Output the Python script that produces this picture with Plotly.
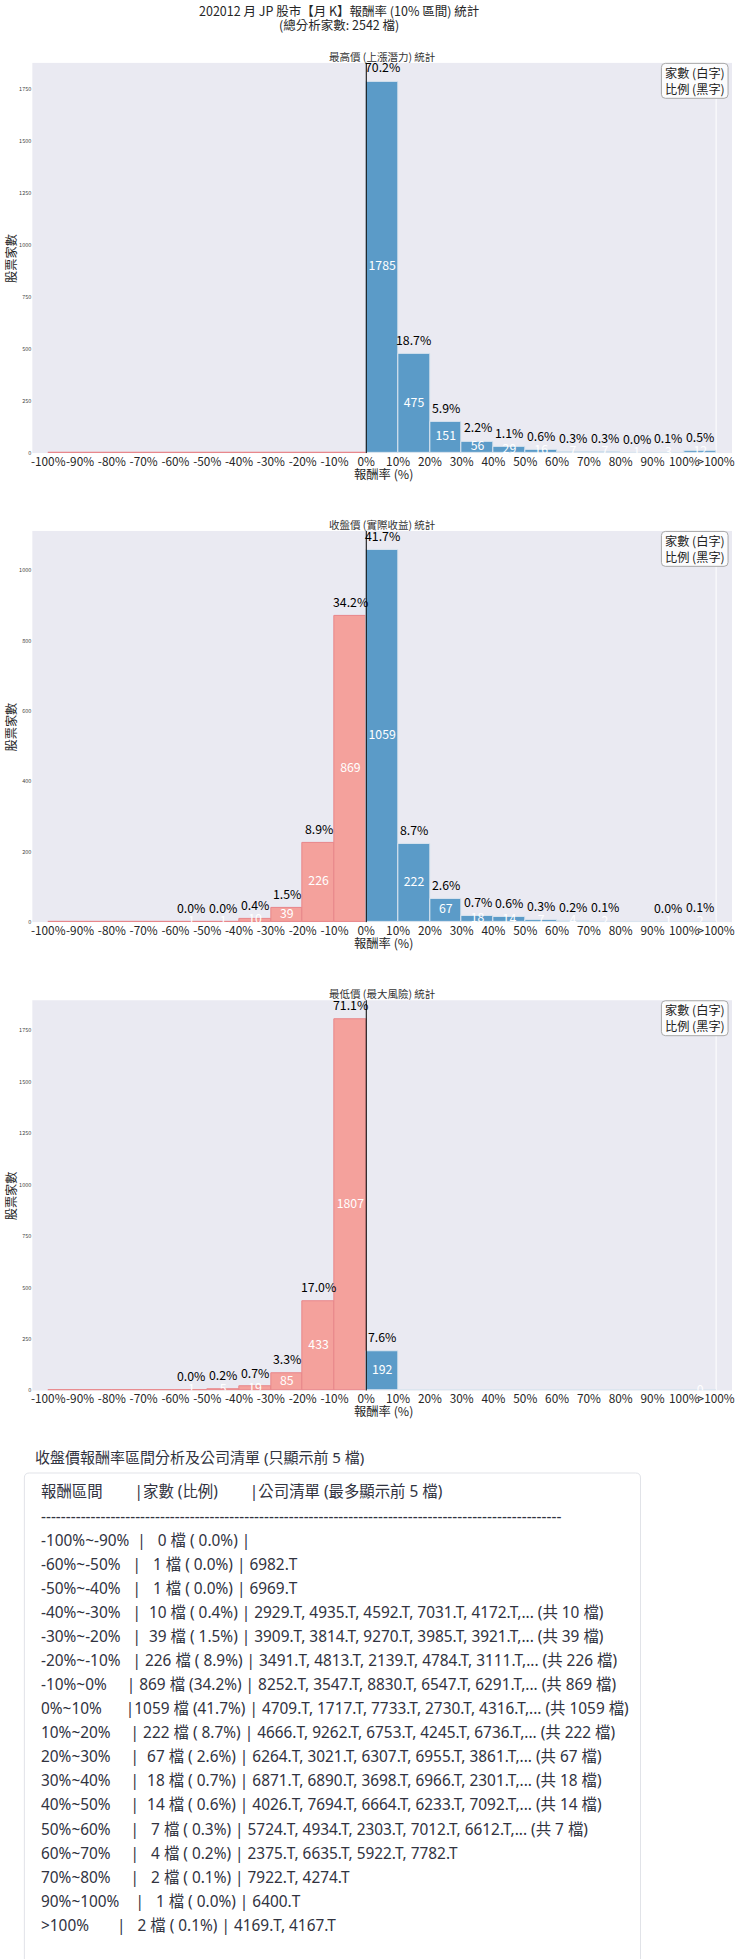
import plotly.graph_objects as go

W, H = 740, 1959
FONT = "Noto Sans CJK TC"
TFONT = "Noto Sans, Noto Sans CJK TC"

# ---------------- data ----------------
bin_left = list(range(-100, 101, 10))          # 21 bins, last one is ">100%"
tick_vals = list(range(-100, 111, 10))
tick_labels = [f"{v}%" for v in range(-100, 101, 10)] + [">100%"]
total_stocks = 2542

high_counts = [0, 0, 0, 0, 0, 0, 0, 0, 0, 0,
               1785, 475, 151, 56, 29, 16, 7, 7, 1, 3, 12]
close_counts = [0, 0, 0, 0, 1, 1, 10, 39, 226, 869,
                1059, 222, 67, 18, 14, 7, 4, 2, 0, 1, 2]
low_counts = [0, 0, 0, 0, 1, 5, 19, 85, 433, 1807,
              192, 0, 0, 0, 0, 0, 0, 0, 0, 0, 0]

chart_titles = ["最高價 (上漲潛力) 統計", "收盤價 (實際收益) 統計", "最低價 (最大風險) 統計"]
y_dticks = [250, 200, 250]

main_title_1 = "202012 月 JP 股市【月 K】報酬率 (10% 區間) 統計"
main_title_2 = f"(總分析家數: {total_stocks} 檔)"

table_heading = "收盤價報酬率區間分析及公司清單 (只顯示前 5 檔)"
table_ranges = ["-100%~-90%", "-60%~-50%", "-50%~-40%", "-40%~-30%", "-30%~-20%",
                "-20%~-10%", "-10%~0%", "0%~10%", "10%~20%", "20%~30%", "30%~40%",
                "40%~50%", "50%~60%", "60%~70%", "70%~80%", "90%~100%", ">100%"]
table_counts = [0, 1, 1, 10, 39, 226, 869, 1059, 222, 67, 18, 14, 7, 4, 2, 1, 2]
table_companies = [
    "",
    "6982.T",
    "6969.T",
    "2929.T, 4935.T, 4592.T, 7031.T, 4172.T,... (共 10 檔)",
    "3909.T, 3814.T, 9270.T, 3985.T, 3921.T,... (共 39 檔)",
    "3491.T, 4813.T, 2139.T, 4784.T, 3111.T,... (共 226 檔)",
    "8252.T, 3547.T, 8830.T, 6547.T, 6291.T,... (共 869 檔)",
    "4709.T, 1717.T, 7733.T, 2730.T, 4316.T,... (共 1059 檔)",
    "4666.T, 9262.T, 6753.T, 4245.T, 6736.T,... (共 222 檔)",
    "6264.T, 3021.T, 6307.T, 6955.T, 3861.T,... (共 67 檔)",
    "6871.T, 6890.T, 3698.T, 6966.T, 2301.T,... (共 18 檔)",
    "4026.T, 7694.T, 6664.T, 6233.T, 7092.T,... (共 14 檔)",
    "5724.T, 4934.T, 2303.T, 7012.T, 6612.T,... (共 7 檔)",
    "2375.T, 6635.T, 5922.T, 7782.T",
    "7922.T, 4274.T",
    "6400.T",
    "4169.T, 4167.T",
]

# ---------------- layout helpers ----------------
def PX(v):
    return v / W

def PY(v):
    return 1 - v / H

AX_LEFT, AX_RIGHT = 31.5, 735.0
AXES = [(63.0, 454.0), (532.0, 924.0), (1002.3, 1393.3)]

BLUE = "#5b9bc8"
BLUE_EDGE = "#dbe5ef"
RED = "#f4a19c"
RED_EDGE = "#e8868a"
LBL = 12.3

def rounded(x0, y0, x1, y1, r, open_bottom=False):
    p = (f"M {PX(x0)},{PY(y1 + 20 if open_bottom else y1 - r)} "
         f"L {PX(x0)},{PY(y0 + r)} Q {PX(x0)},{PY(y0)} {PX(x0 + r)},{PY(y0)} "
         f"L {PX(x1 - r)},{PY(y0)} Q {PX(x1)},{PY(y0)} {PX(x1)},{PY(y0 + r)} ")
    if open_bottom:
        p += f"L {PX(x1)},{PY(y1 + 20)}"
    else:
        p += (f"L {PX(x1)},{PY(y1 - r)} Q {PX(x1)},{PY(y1)} {PX(x1 - r)},{PY(y1)} "
              f"L {PX(x0 + r)},{PY(y1)} Q {PX(x0)},{PY(y1)} {PX(x0)},{PY(y1 - r)} Z")
    return p

fig = go.Figure()
annotations = []
shapes = []

all_counts = [high_counts, close_counts, low_counts]
for i, counts in enumerate(all_counts):
    n = i + 1
    xa = "x" if n == 1 else f"x{n}"
    ya = "y" if n == 1 else f"y{n}"
    centers = [b + 5 for b in bin_left]
    colors = [RED if b < 0 else BLUE for b in bin_left]
    edges = [RED_EDGE if b < 0 else BLUE_EDGE for b in bin_left]
    fig.add_trace(go.Bar(
        x=centers, y=counts, width=[10] * len(centers),
        marker=dict(color=colors, line=dict(color=edges, width=1)),
        xaxis=xa, yaxis=ya, showlegend=False, hoverinfo="skip"))
    last = len(counts) - 1
    keep = [k for k, v in enumerate(counts) if v > 0 or k == last]
    # white count labels (middle of bar, clipped at the axes)
    fig.add_trace(go.Scatter(
        x=[centers[k] for k in keep], y=[counts[k] / 2 for k in keep],
        text=[str(counts[k]) for k in keep], mode="text", cliponaxis=True,
        textfont=dict(family=FONT, size=LBL, color="white"),
        xaxis=xa, yaxis=ya, showlegend=False, hoverinfo="skip"))
    # black percentage labels above bars
    for k, v in enumerate(counts):
        if v > 0:
            annotations.append(dict(
                text=f"{v / total_stocks * 100:.1f}%", x=centers[k], y=v,
                xref=xa, yref=ya, showarrow=False, xanchor="center", yanchor="bottom",
                yshift=3, font=dict(family=FONT, size=LBL, color="black")))

    top, bot = AXES[i]
    ymax = max(counts) * 1.05
    fig.layout[f"xaxis{'' if n == 1 else n}"] = dict(
        domain=[PX(AX_LEFT), PX(AX_RIGHT)], anchor=ya, range=[-105, 115],
        tickmode="array", tickvals=tick_vals, ticktext=tick_labels, tickangle=0,
        tickfont=dict(family=FONT, size=11.8, color="#262626"),
        showgrid=False, zeroline=False, showline=False, ticks="", fixedrange=True)
    fig.layout[f"yaxis{'' if n == 1 else n}"] = dict(
        domain=[PY(bot), PY(top)], anchor=xa, range=[0, ymax],
        dtick=y_dticks[i], tick0=0,
        tickfont=dict(family=FONT, size=5.5, color="#444"),
        showgrid=False, zeroline=False, showline=False, ticks="", fixedrange=True)

    # vertical lines
    shapes.append(dict(type="line", xref=xa, yref=f"{ya} domain", x0=0, x1=0, y0=0, y1=1,
                       line=dict(color="black", width=1), layer="above"))
    shapes.append(dict(type="line", xref=xa, yref=f"{ya} domain", x0=110, x1=110, y0=0, y1=1,
                       line=dict(color="white", width=1), layer="below"))
    # subplot title
    annotations.append(dict(text=chart_titles[i], x=PX(383.5), y=PY(top - 6.5),
                            xref="paper", yref="paper", showarrow=False,
                            xanchor="center", yanchor="middle",
                            font=dict(family=FONT, size=10.5, color="#333")))
    # axis titles
    annotations.append(dict(text="報酬率 (%)", x=PX(385), y=PY(bot + 21),
                            xref="paper", yref="paper", showarrow=False,
                            xanchor="center", yanchor="middle",
                            font=dict(family=FONT, size=12.3, color="#262626")))
    annotations.append(dict(text="股票家數", x=PX(10), y=PY((top + bot) / 2),
                            xref="paper", yref="paper", showarrow=False, textangle=-90,
                            xanchor="center", yanchor="middle",
                            font=dict(family=FONT, size=12.2, color="#262626")))
    # legend-like box
    shapes.append(dict(type="path", xref="paper", yref="paper",
                       path=rounded(664, top + 0.5, 731, top + 35.5, 4),
                       fillcolor="rgba(255,255,255,0.85)",
                       line=dict(color="#a8a8a8", width=1), layer="above"))
    annotations.append(dict(text="家數 (白字)<br>比例 (黑字)", x=PX(697.5), y=PY(top + 18),
                            xref="paper", yref="paper", showarrow=False,
                            xanchor="center", yanchor="middle", align="left",
                            font=dict(family=FONT, size=12.2, color="#222")))

# main title
annotations.append(dict(text=main_title_1, x=PX(340), y=PY(10.5), xref="paper", yref="paper",
                        showarrow=False, xanchor="center", yanchor="middle",
                        font=dict(family=FONT, size=12.5, color="#262626")))
annotations.append(dict(text=main_title_2, x=PX(340), y=PY(24.5), xref="paper", yref="paper",
                        showarrow=False, xanchor="center", yanchor="middle",
                        font=dict(family=FONT, size=12.5, color="#262626")))

# ---------------- table section ----------------
NB = "\u00a0"

def pad(s, n):
    return s + NB * max(n - len(s), 0)

TXT = "#31333f"
annotations.append(dict(text=table_heading, x=PX(32), y=PY(1460), xref="paper", yref="paper",
                        showarrow=False, xanchor="left", yanchor="middle",
                        font=dict(family=TFONT, size=15.0, color=TXT)))
shapes.append(dict(type="path", xref="paper", yref="paper",
                   path=rounded(23.5, 1476, 643, 1959, 5, open_bottom=True),
                   line=dict(color="#e1e3e8", width=1)))

lines = [pad("報酬區間", 12) + "|" + pad("家數 (比例)", 15) + "|公司清單 (最多顯示前 5 檔)",
         "-" * 105]
for rng, cnt, comp in zip(table_ranges, table_counts, table_companies):
    pct = cnt / total_stocks * 100
    cnt_s = f"{cnt:>4}".replace(" ", NB)
    pct_s = f"{pct:4.1f}".replace(" ", NB)
    lines.append(pad(rng, 12) + "|" + cnt_s + f"{NB}檔{NB}(" + pct_s + f"%){NB}|{NB}" + comp.replace(" ", NB))

for k, s in enumerate(lines):
    annotations.append(dict(text=s.replace(" ", NB), x=PX(38), y=PY(1495 + k * 24.13),
                            xref="paper", yref="paper",
                            showarrow=False, xanchor="left", yanchor="middle",
                            font=dict(family=TFONT, size=15.4, color=TXT)))

fig.update_layout(
    width=W, height=H, margin=dict(l=0, r=0, t=0, b=0),
    paper_bgcolor="white", plot_bgcolor="#eaeaf2",
    annotations=annotations, shapes=shapes, bargap=0,
    font=dict(family=FONT),
)

fig.write_html("out.html", config={"displayModeBar": False},
               post_script="document.body.style.margin='0px';document.body.style.padding='0px';")
